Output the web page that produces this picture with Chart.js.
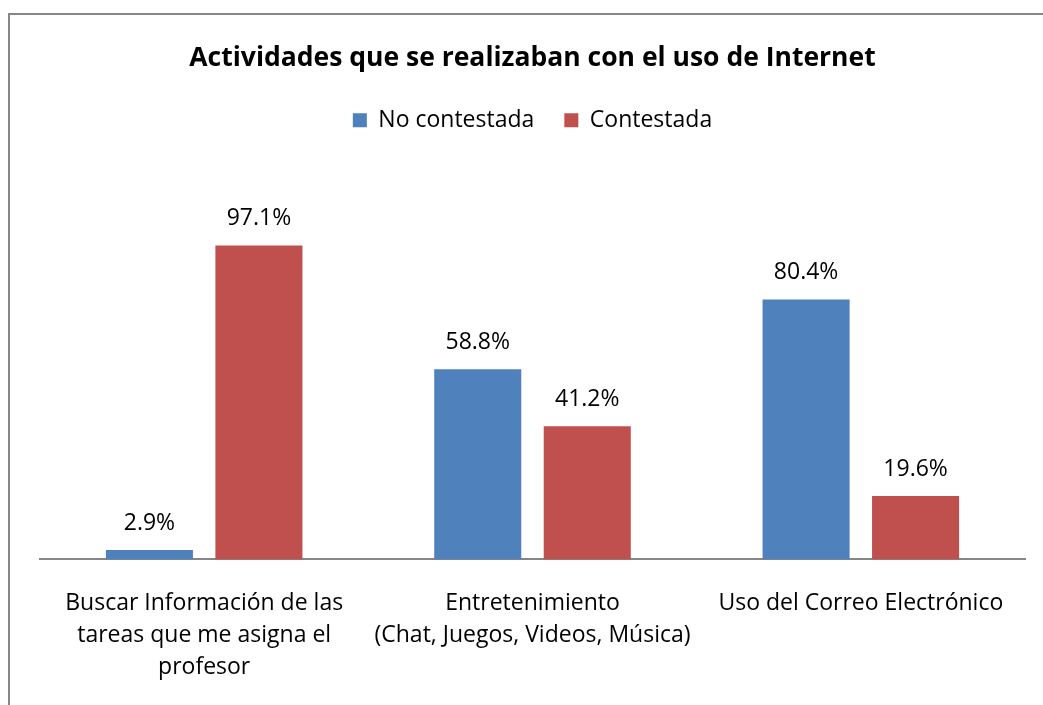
<!DOCTYPE html>
<html>
<head>
<meta charset="utf-8">
<script src="https://cdn.jsdelivr.net/npm/chart.js@4/dist/chart.umd.min.js"></script>
<style>
  html, body { margin: 0; padding: 0; background: #ffffff; }
  #wrap { position: relative; width: 1043px; height: 705px; }
</style>
</head>
<body>
<div id="wrap"><canvas id="c" width="1043" height="705"></canvas></div>
<script>
const categories = [
  ["Buscar Información de las", "tareas que me asigna el", "profesor"],
  ["Entretenimiento", "(Chat, Juegos, Videos, Música)"],
  ["Uso del Correo Electrónico"]
];
const seriesNames = ["No contestada", "Contestada"];
const noContestada = [2.9, 58.8, 80.4];
const contestada = [97.1, 41.2, 19.6];

const FONT = "'Open Sans', 'DejaVu Sans', sans-serif";

const frame = {
  id: 'frame',
  beforeDraw(chart) {
    const ctx = chart.ctx;
    ctx.save();
    ctx.fillStyle = '#ffffff';
    ctx.fillRect(0, 0, chart.width, chart.height);
    ctx.strokeStyle = '#868686';
    ctx.lineWidth = 2;
    ctx.beginPath();
    ctx.moveTo(9, 705);
    ctx.lineTo(9, 14);
    ctx.lineTo(1043, 14);
    ctx.stroke();
    ctx.restore();
  }
};

const valueLabels = {
  id: 'valueLabels',
  afterDatasetsDraw(chart) {
    const ctx = chart.ctx;
    ctx.save();
    ctx.font = "23px " + FONT;
    ctx.fillStyle = '#000000';
    ctx.textAlign = 'center';
    ctx.textBaseline = 'middle';
    chart.data.datasets.forEach((ds, di) => {
      const meta = chart.getDatasetMeta(di);
      meta.data.forEach((el, i) => {
        ctx.fillText(ds.data[i].toFixed(1) + '%', el.x, el.y - 27);
      });
    });
    ctx.restore();
  }
};

new Chart(document.getElementById('c'), {
  type: 'bar',
  data: {
    labels: categories,
    datasets: [
      { label: seriesNames[0], data: noContestada, backgroundColor: '#4F81BD' },
      { label: seriesNames[1], data: contestada, backgroundColor: '#C0504D' }
    ]
  },
  options: {
    responsive: false,
    animation: false,
    devicePixelRatio: 1,
    layout: { padding: { left: 40, right: 18, top: 0, bottom: -7 } },
    datasets: { bar: { categoryPercentage: 0.667, barPercentage: 0.795 } },
    plugins: {
      title: {
        display: true,
        text: 'Actividades que se realizaban con el uso de Internet',
        color: '#000000',
        font: { family: FONT, size: 26.5, weight: 'bold', lineHeight: 1.2 },
        padding: { top: 43, bottom: 4 }
      },
      legend: {
        display: true,
        position: 'top',
        labels: {
          color: '#000000',
          font: { family: FONT, size: 23 },
          boxWidth: 14,
          boxHeight: 14,
          padding: 30
        }
      },
      tooltip: { enabled: false }
    },
    scales: {
      x: {
        grid: { display: false, drawTicks: false },
        border: { display: true, color: '#868686', width: 2 },
        ticks: {
          color: '#000000',
          font: { family: FONT, size: 23, lineHeight: 1.4 },
          padding: 28,
          maxRotation: 0,
          autoSkip: false
        }
      },
      y: {
        display: false,
        min: 0,
        max: 129.2
      }
    }
  },
  plugins: [frame, valueLabels]
});
</script>
</body>
</html>
